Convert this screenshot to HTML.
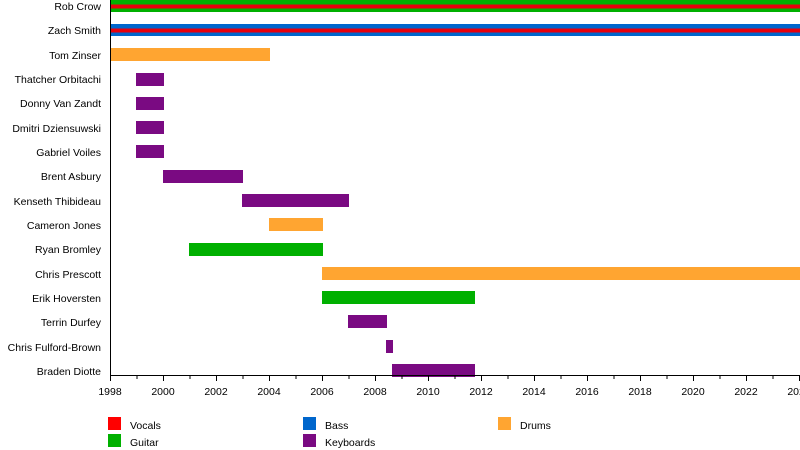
<!DOCTYPE html><html><head><style>body{margin:0;background:#fff}svg{display:block;font-family:"Liberation Sans",sans-serif}</style></head><body>
<svg width="800" height="450" xmlns="http://www.w3.org/2000/svg">
<g font-size="10.5" text-anchor="end" fill="#000">
<text x="101" y="10">Rob Crow</text>
<text x="101" y="34">Zach Smith</text>
<text x="101" y="59">Tom Zinser</text>
<text x="101" y="83">Thatcher Orbitachi</text>
<text x="101" y="107">Donny Van Zandt</text>
<text x="101" y="132">Dmitri Dziensuwski</text>
<text x="101" y="156">Gabriel Voiles</text>
<text x="101" y="180">Brent Asbury</text>
<text x="101" y="205">Kenseth Thibideau</text>
<text x="101" y="229">Cameron Jones</text>
<text x="101" y="253">Ryan Bromley</text>
<text x="101" y="278">Chris Prescott</text>
<text x="101" y="302">Erik Hoversten</text>
<text x="101" y="326">Terrin Durfey</text>
<text x="101" y="351">Chris Fulford-Brown</text>
<text x="101" y="375">Braden Diotte</text>
</g>
<rect x="110" y="0" width="690" height="12" fill="#00b000"/>
<rect x="110" y="4.5" width="690" height="4" fill="#e8000b"/>
<rect x="110" y="24" width="690" height="12" fill="#0066cc"/>
<rect x="110" y="28.5" width="690" height="4" fill="#e8000b"/>
<g fill="#ffa531">
<rect x="110" y="48" width="160" height="13"/>
<rect x="269" y="218" width="54" height="13"/>
<rect x="322" y="267" width="478" height="13"/>
</g>
<g fill="#7a0a82">
<rect x="136" y="73" width="28" height="13"/>
<rect x="136" y="97" width="28" height="13"/>
<rect x="136" y="121" width="28" height="13"/>
<rect x="136" y="145" width="28" height="13"/>
<rect x="163" y="170" width="80" height="13"/>
<rect x="242" y="194" width="107" height="13"/>
<rect x="348" y="315" width="39" height="13"/>
<rect x="386" y="340" width="7" height="13"/>
<rect x="392" y="364" width="83" height="13"/>
</g>
<g fill="#00b000">
<rect x="189" y="243" width="134" height="13"/>
<rect x="322" y="291" width="153" height="13"/>
</g>
<line x1="110.5" y1="0" x2="110.5" y2="376" stroke="#000"/>
<line x1="110" y1="375.5" x2="800" y2="375.5" stroke="#000"/>
<g stroke="#000" id="ticks"></g>
<g font-size="10.5" text-anchor="middle" id="yl"></g>
<g font-size="10.5">
<rect x="108" y="417" width="13" height="13" fill="#ff0000"/><text x="130" y="429">Vocals</text>
<rect x="108" y="434" width="13" height="13" fill="#00b000"/><text x="130" y="446">Guitar</text>
<rect x="303" y="417" width="13" height="13" fill="#0066cc"/><text x="325" y="429">Bass</text>
<rect x="303" y="434" width="13" height="13" fill="#7a0a82"/><text x="325" y="446">Keyboards</text>
<rect x="498" y="417" width="13" height="13" fill="#ffa531"/><text x="520" y="429">Drums</text>
</g>
<script>
var t=document.getElementById('ticks'),l=document.getElementById('yl'),ns='http://www.w3.org/2000/svg';
for(var y=1998;y<=2024;y++){var x=110+(y-1998)*26.5;var ln=document.createElementNS(ns,'line');ln.setAttribute('x1',x+.5);ln.setAttribute('x2',x+.5);ln.setAttribute('y1',375);ln.setAttribute('y2',y%2?379:381);t.appendChild(ln);
if(y%2==0){var tx=document.createElementNS(ns,'text');tx.setAttribute('x',x);tx.setAttribute('y',395);tx.textContent=y;l.appendChild(tx);}}
</script>
</svg></body></html>
